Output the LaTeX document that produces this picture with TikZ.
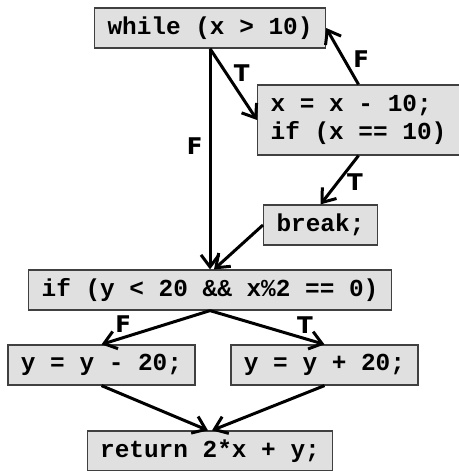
\documentclass[tikz,border=0pt]{standalone}
\usepackage{fontspec}
\setmonofont{Liberation Mono}
\setsansfont{DejaVu Sans}
\usetikzlibrary{arrows.meta}

\begin{document}
\begin{tikzpicture}[x=0.5pt,y=-0.5pt,>={Straight Barb[length=6pt,width=9pt]},
    codebox/.style={draw=black!75,line width=0.6pt,fill=black!12,font=\ttfamily\bfseries\fontsize{12.2}{14}\selectfont,
        inner xsep=6.5pt,minimum height=20pt,align=left},
    flow/.style={->,line width=1.5pt},
    tf/.style={font=\sffamily\bfseries\fontsize{11.5}{13}\selectfont,inner sep=1pt}]
    \useasboundingbox (0,0) rectangle (459,471);
    % blocks
    \node[codebox] (loop) at (210,28) {while (x > 10)};
    \node[codebox,minimum height=35pt] (body) at (358.5,120) {x = x - 10;\\if (x == 10)};
    \node[codebox] (brk) at (320.5,225) {break;};
    \node[codebox] (cond) at (210,290) {if (y < 20 \&\& x\%2 == 0)};
    \node[codebox] (ym) at (101.5,365) {y = y - 20;};
    \node[codebox] (yp) at (324.5,365) {y = y + 20;};
    \node[codebox] (ret) at (210,451) {return 2*x + y;};
    % edges
    \draw[flow] (loop.south) -- node[tf,pos=0.35,right=2pt] {T} (body.west);
    \draw[flow] (loop.south) -- node[tf,pos=0.44,left=2pt] {F} (cond.north);
    \draw[flow] (body.north) -- node[tf,pos=0.45,right=3pt] {F} (loop.east);
    \draw[flow] (body.south) -- node[tf,pos=0.55,right=3pt] {T} (brk.north);
    \draw[flow] (brk.west) -- ([xshift=2pt]cond.north);
    \draw[flow] (cond.south) -- node[tf,pos=0.8,above=1pt] {F} (ym.north);
    \draw[flow] (cond.south) -- node[tf,pos=0.83,above=1pt] {T} (yp.north);
    \draw[flow] (ym.south) -- ([xshift=-1pt]ret.north);
    \draw[flow] (yp.south) -- ([xshift=1pt]ret.north);
\end{tikzpicture}
\end{document}
